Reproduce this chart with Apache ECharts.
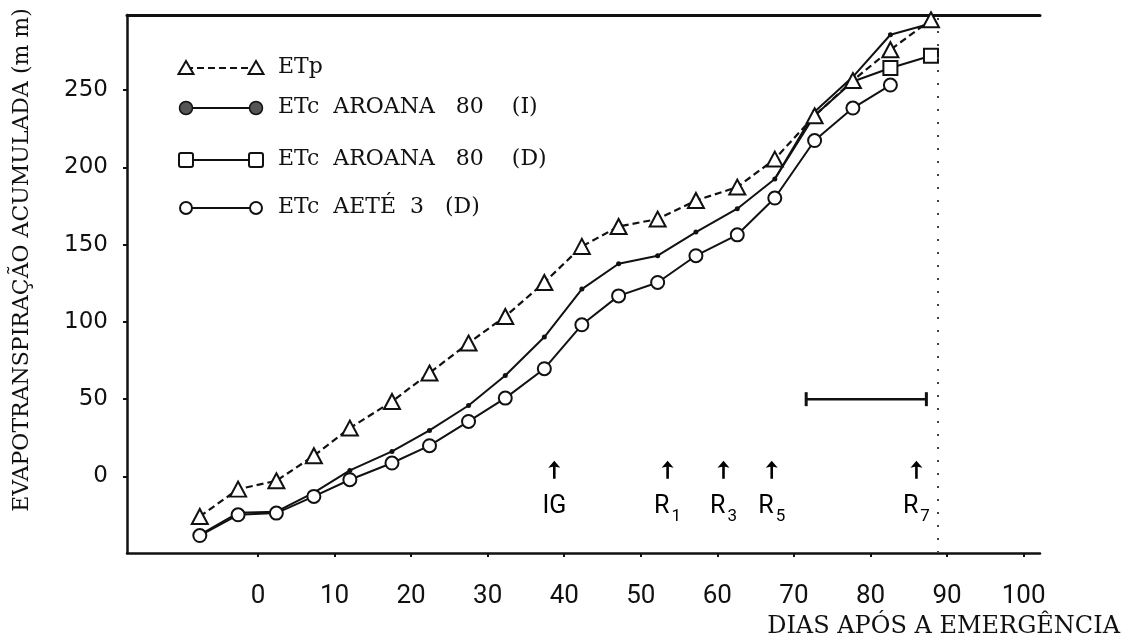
<!DOCTYPE html>
<html><head><meta charset="utf-8">
<script src="https://cdn.jsdelivr.net/npm/echarts@6/dist/echarts.min.js"></script>
<style>html,body{margin:0;padding:0;background:#fff}#c{width:1128px;height:643px}</style>
</head><body><div id="c"></div>
<script>
// ---- data ----
const days = [-7.6, -2.6, 2.4, 7.3, 12.0, 17.5, 22.4, 27.5, 32.3, 37.4, 42.3, 47.1, 52.2, 57.2, 62.6, 67.5, 72.7, 77.7, 82.6, 87.9];
const etp = [-25.9, -8.2, -2.8, 13.4, 31.3, 48.5, 66.9, 86.3, 103.5, 125.5, 148.8, 161.7, 166.5, 178.5, 187.2, 205.3, 233.3, 256.1, 276.0, 295.4];
const etcAroanaI = [-37.7, -23.5, -22.8, -10.5, 3.9, 16.2, 29.8, 45.9, 65.3, 90.2, 121.2, 137.6, 142.8, 158.1, 173.2, 192.4, 235.9, 258.5, 285.7, 293.0];
const etcAroanaD = [null, null, null, null, null, null, null, null, null, null, null, null, null, null, null, 192.4, 233.5, 255.5, 264.2, 272.1];
const etcAete = [-38.2, -24.8, -23.7, -12.9, -2.1, 8.7, 19.9, 35.6, 50.7, 69.7, 98.1, 116.8, 125.5, 142.8, 156.3, 180.1, 217.3, 238.3, 253.2];
const xTicks = [0, 10, 20, 30, 40, 50, 60, 70, 80, 90, 100];
const yTicks = [0, 50, 100, 150, 200, 250];
const stageDays = [38.7, 53.5, 60.8, 67.1, 86.0];
const stageLabels = ['IG', 'R1', 'R3', 'R5', 'R7'];
const stageArrowY = 4.3;
const stageTextY = -19.7;
const barDays = [71.6, 87.3];
const barValue = 50;
const rightBorderDay = 88.8;
const seriesNames = ['ETp', 'ETc  AROANA   80    (I)', 'ETc  AROANA   80    (D)', 'ETc  AETÉ  3   (D)'];
const yTitle = 'EVAPOTRANSPIRAÇÃO ACUMULADA (m m)';
const xTitle = 'DIAS APÓS A EMERGÊNCIA';

const INK = '#111';
const pairs = (xs, ys) => xs.map((x, i) => [x, ys[i]]).filter(p => p[1] !== null && p[1] !== undefined);

// legend drawn as graphic keys (symbol—line—symbol) + text
const legendRows = [
  { y: 68, dash: true, sym: 'tri' },
  { y: 108, dash: false, sym: 'dot' },
  { y: 160, dash: false, sym: 'sq' },
  { y: 208, dash: false, sym: 'circ' }
];
const graphics = [];
legendRows.forEach((r, i) => {
  const x1 = 186, x2 = 256;
  graphics.push({ type: 'line', shape: { x1: x1, y1: r.y, x2: x2, y2: r.y },
    style: { stroke: INK, lineWidth: 2, lineDash: r.dash ? [7, 4] : null } });
  [x1, x2].forEach(cx => {
    if (r.sym === 'tri') graphics.push({ type: 'polygon', shape: { points: [[cx, r.y - 7], [cx - 7.5, r.y + 6], [cx + 7.5, r.y + 6]] }, style: { fill: '#fff', stroke: INK, lineWidth: 2 } });
    if (r.sym === 'dot') graphics.push({ type: 'circle', shape: { cx: cx, cy: r.y, r: 6.5 }, style: { fill: '#555', stroke: INK, lineWidth: 1.5 } });
    if (r.sym === 'sq') graphics.push({ type: 'rect', shape: { x: cx - 7, y: r.y - 7, width: 14, height: 14, r: 2 }, style: { fill: '#fff', stroke: INK, lineWidth: 2 } });
    if (r.sym === 'circ') graphics.push({ type: 'circle', shape: { cx: cx, cy: r.y, r: 6 }, style: { fill: '#fff', stroke: INK, lineWidth: 2 } });
  });
  graphics.push({ type: 'text', x: 278, y: r.y - 1, style: { text: seriesNames[i], font: '22px "DejaVu Serif"', fill: INK, verticalAlign: 'middle' } });
});
graphics.push({ type: 'text', x: 22, y: 260, rotation: Math.PI / 2,
  style: { text: yTitle, font: '22px "DejaVu Serif"', fill: INK, align: 'center', verticalAlign: 'middle' } });

const chart = echarts.init(document.getElementById('c'), null, { renderer: 'canvas' });
chart.setOption({
  animation: false,
  backgroundColor: '#fff',
  grid: { left: 127, right: 88, top: 15, bottom: 90, containLabel: false },
  xAxis: [{
    type: 'value', min: -17.11, max: 102.14, position: 'bottom',
    axisLine: { show: true, onZero: false, lineStyle: { color: INK, width: 2.5 } },
    axisTick: { show: true, customValues: xTicks, length: 4, lineStyle: { color: INK, width: 2 } },
    axisLabel: { customValues: xTicks, margin: 30, color: INK, fontFamily: 'Roboto', fontSize: 26 },
    splitLine: { show: false },
    name: xTitle, nameLocation: 'end', nameGap: 80,
    nameTextStyle: { fontFamily: 'DejaVu Serif', fontSize: 24, color: INK, align: 'right', verticalAlign: 'top', padding: [62, 0, 0, 0] }
  }, {
    type: 'value', min: -17.11, max: 102.14, position: 'top',
    axisLine: { show: true, onZero: false, lineStyle: { color: INK, width: 3 } },
    axisTick: { show: false }, axisLabel: { show: false }, splitLine: { show: false }
  }],
  yAxis: {
    type: 'value', min: -49.5, max: 298.5,
    axisLine: { show: true, onZero: false, lineStyle: { color: INK, width: 2.5 } },
    axisTick: { show: true, customValues: yTicks, length: 4, lineStyle: { color: INK, width: 2 } },
    axisLabel: { customValues: yTicks, margin: 19, color: INK, fontFamily: 'DejaVu Sans', fontSize: 23 },
    splitLine: { show: false }
  },
  graphic: graphics,
  series: [
    {
      name: seriesNames[1], type: 'line', data: pairs(days, etcAroanaI),
      symbol: 'circle', symbolSize: 5, itemStyle: { color: INK },
      lineStyle: { color: INK, width: 2 }, z: 2,
      markLine: {
        silent: true, symbol: 'none', label: { show: false },
        lineStyle: { color: '#444', width: 2, type: [2, 11] },
        data: [{ xAxis: rightBorderDay }]
      }
    },
    {
      name: seriesNames[0], type: 'line', data: pairs(days, etp),
      symbol: 'triangle', symbolSize: [16, 15],
      itemStyle: { color: '#fff', borderColor: INK, borderWidth: 2 },
      lineStyle: { color: INK, width: 2.2, type: [7, 4] }, z: 3
    },
    {
      name: seriesNames[2], type: 'line', data: pairs(days, etcAroanaD),
      symbol: 'rect',
      symbolSize: (v, p) => (p.dataIndex >= 3 ? 14 : 0),
      itemStyle: { color: '#fff', borderColor: INK, borderWidth: 2 },
      lineStyle: { color: INK, width: 2 }, z: 3
    },
    {
      name: seriesNames[3], type: 'line', data: pairs(days, etcAete),
      symbol: 'circle', symbolSize: 13,
      itemStyle: { color: '#fff', borderColor: INK, borderWidth: 2 },
      lineStyle: { color: INK, width: 2 }, z: 4
    },
    {
      name: 'stages', type: 'scatter', data: stageDays.map(d => [d, stageArrowY]),
      symbol: 'path://M6,0 L12,7 L7.3,6 L7.3,18 L4.7,18 L4.7,6 L0,7 Z',
      symbolSize: [12, 18], itemStyle: { color: '#000', opacity: 1 }, z: 5
    },
    {
      name: 'stageText', type: 'scatter', data: stageDays.map(d => [d, stageTextY]),
      symbol: 'circle', symbolSize: 1, itemStyle: { color: 'rgba(0,0,0,0)', opacity: 1 },
      label: {
        show: true, position: 'inside', opacity: 1,
        formatter: p => {
          const s = stageLabels[p.dataIndex];
          return /\d/.test(s.slice(1)) ? '{t|' + s[0] + '}{s|' + s.slice(1) + '}' : '{t|' + s + '}';
        },
        rich: {
          t: { fontFamily: 'Roboto', fontSize: 25, color: '#000' },
          s: { fontFamily: 'Roboto', fontSize: 17, color: '#000', padding: [20, 0, 0, 2] }
        }
      }, z: 5
    },
    {
      name: 'bar', type: 'line', data: barDays.map(d => [d, barValue]),
      symbol: 'rect', symbolSize: [3, 14], itemStyle: { color: INK },
      lineStyle: { color: INK, width: 2.5 }, z: 5
    }
  ]
});
</script>
</body></html>
